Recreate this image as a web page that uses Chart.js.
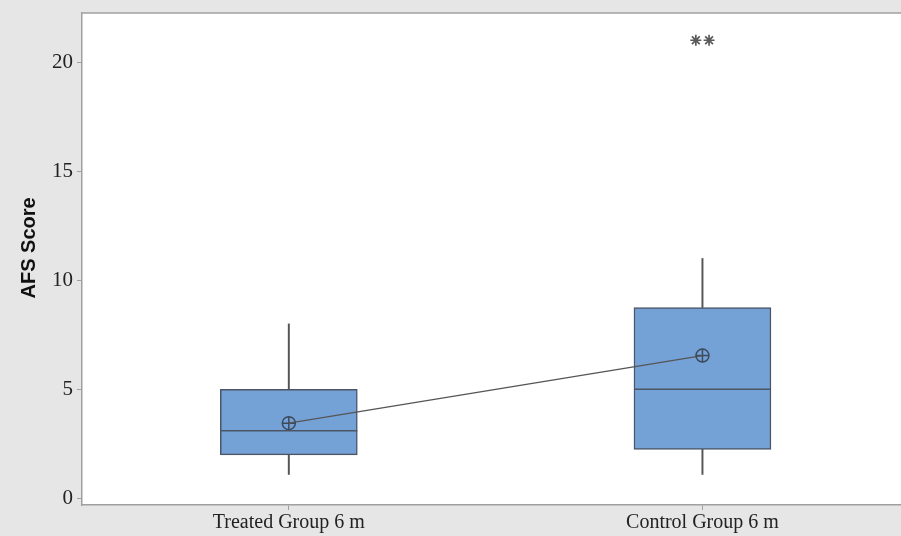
<!DOCTYPE html>
<html>
<head>
<meta charset="utf-8">
<script src="https://cdn.jsdelivr.net/npm/chart.js@4"></script>
<style>
  html, body { margin: 0; padding: 0; background: #e6e6e6; }
  #wrap { width: 901px; height: 536px; }
</style>
</head>
<body>
<div id="wrap"><canvas id="afsChart"></canvas></div>
<script>
// box plot summary per group
const groups = ["Treated Group 6 m", "Control Group 6 m"];
const groupPos = [1, 2];
const q1 = [2, 2.25];
const q3 = [5, 8.75];
const medians = [3.1, 5];
const whiskLow = [1.1, 1.1];
const whiskHigh = [8, 11];
const means = [3.45, 6.55];
const outlierX = [1.984, 2.016];
const outlierY = [21, 21];
const yTicks = [0, 5, 10, 15, 20];

const boxBlue = "#74a2d6";
const boxEdge = "#4b5566";
const lineGray = "#555555";

// white plot area + top frame line
const plotArea = {
  id: "plotArea",
  beforeDraw(chart) {
    const { ctx, chartArea } = chart;
    ctx.save();
    ctx.fillStyle = "#ffffff";
    ctx.fillRect(chartArea.left, chartArea.top, chartArea.right - chartArea.left, chartArea.bottom - chartArea.top);
    ctx.strokeStyle = "#a0a0a0";
    ctx.lineWidth = 1.5;
    ctx.beginPath();
    ctx.moveTo(chartArea.left, chartArea.top);
    ctx.lineTo(chartArea.right, chartArea.top);
    ctx.stroke();
    ctx.restore();
  },
};

// median lines across the boxes
const medianLines = {
  id: "medianLines",
  afterDatasetsDraw(chart) {
    const meta = chart.getDatasetMeta(2);
    const y = chart.scales.y;
    const ctx = chart.ctx;
    ctx.save();
    ctx.strokeStyle = boxEdge;
    ctx.lineWidth = 1.5;
    meta.data.forEach((bar, i) => {
      const py = y.getPixelForValue(medians[i]);
      ctx.beginPath();
      ctx.moveTo(bar.x - bar.width / 2, py);
      ctx.lineTo(bar.x + bar.width / 2, py);
      ctx.stroke();
    });
    ctx.restore();
  },
};

new Chart(document.getElementById("afsChart"), {
  data: {
    datasets: [
      {
        type: "bar",
        data: groupPos.map((x, i) => ({ x: x, y: [whiskLow[i], q1[i]] })),
        backgroundColor: lineGray,
        barThickness: 1.3,
        grouped: false,
        order: 5,
      },
      {
        type: "bar",
        data: groupPos.map((x, i) => ({ x: x, y: [q3[i], whiskHigh[i]] })),
        backgroundColor: lineGray,
        barThickness: 1.3,
        grouped: false,
        order: 5,
      },
      {
        type: "bar",
        data: groupPos.map((x, i) => ({ x: x, y: [q1[i], q3[i]] })),
        backgroundColor: boxBlue,
        borderColor: boxEdge,
        borderWidth: 1.5,
        borderSkipped: false,
        barThickness: 137,
        grouped: false,
        order: 4,
      },
      {
        type: "line",
        data: groupPos.map((x, i) => ({ x: x, y: means[i] })),
        borderColor: lineGray,
        borderWidth: 1.3,
        pointStyle: "circle",
        pointRadius: 6.5,
        pointBorderWidth: 1.5,
        pointBorderColor: "#3d4a5e",
        pointBackgroundColor: "rgba(0,0,0,0)",
        order: 1,
      },
      {
        type: "scatter",
        data: groupPos.map((x, i) => ({ x: x, y: means[i] })),
        showLine: false,
        pointStyle: "cross",
        pointRadius: 6.5,
        pointBorderWidth: 1.5,
        pointBorderColor: "#3d4a5e",
        order: 1,
      },
      {
        type: "scatter",
        data: outlierX.map((x, i) => ({ x: x, y: outlierY[i] })),
        pointStyle: "star",
        pointRadius: 5.5,
        pointBorderWidth: 1.7,
        pointBorderColor: "#5a5a5a",
        order: 1,
      },
    ],
  },
  options: {
    responsive: true,
    maintainAspectRatio: false,
    animation: false,
    layout: { autoPadding: false, padding: { top: 13, right: 0, bottom: 0, left: 0 } },
    plugins: { legend: { display: false }, tooltip: { enabled: false } },
    scales: {
      x: {
        type: "linear",
        min: 0.5,
        max: 2.48,
        offset: false,
        afterBuildTicks: (scale) => {
          scale.ticks = groupPos.map((v) => ({ value: v }));
        },
        afterFit: (scale) => {
          scale.height = 31;
          scale.paddingLeft = 0;
          scale.paddingRight = 0;
        },
        ticks: {
          callback: (v) => groups[groupPos.indexOf(v)],
          font: { family: "Liberation Serif", size: 20 },
          color: "#222",
          padding: 1,
          maxRotation: 0,
        },
        grid: { offset: false, drawOnChartArea: false, tickLength: 5, color: "#a0a0a0" },
        border: { color: "#a0a0a0", width: 1.5 },
      },
      y: {
        min: -0.3,
        max: 22.25,
        afterBuildTicks: (scale) => {
          scale.ticks = yTicks.map((v) => ({ value: v }));
        },
        afterFit: (scale) => {
          scale.width = 82;
          scale.paddingTop = 0;
          scale.paddingBottom = 0;
        },
        ticks: {
          font: { family: "Liberation Serif", size: 21 },
          color: "#222",
          padding: 4,
        },
        grid: { drawOnChartArea: false, tickLength: 5, color: "#a0a0a0" },
        border: { color: "#a0a0a0", width: 1.5 },
        title: {
          display: true,
          // leading spaces nudge the rotated title up a little
          text: "    AFS Score",
          font: { family: "Liberation Sans", size: 20, weight: "bold" },
          color: "#111",
          padding: { top: 17, bottom: 0 },
        },
      },
    },
  },
  plugins: [plotArea, medianLines],
});
</script>
</body>
</html>
